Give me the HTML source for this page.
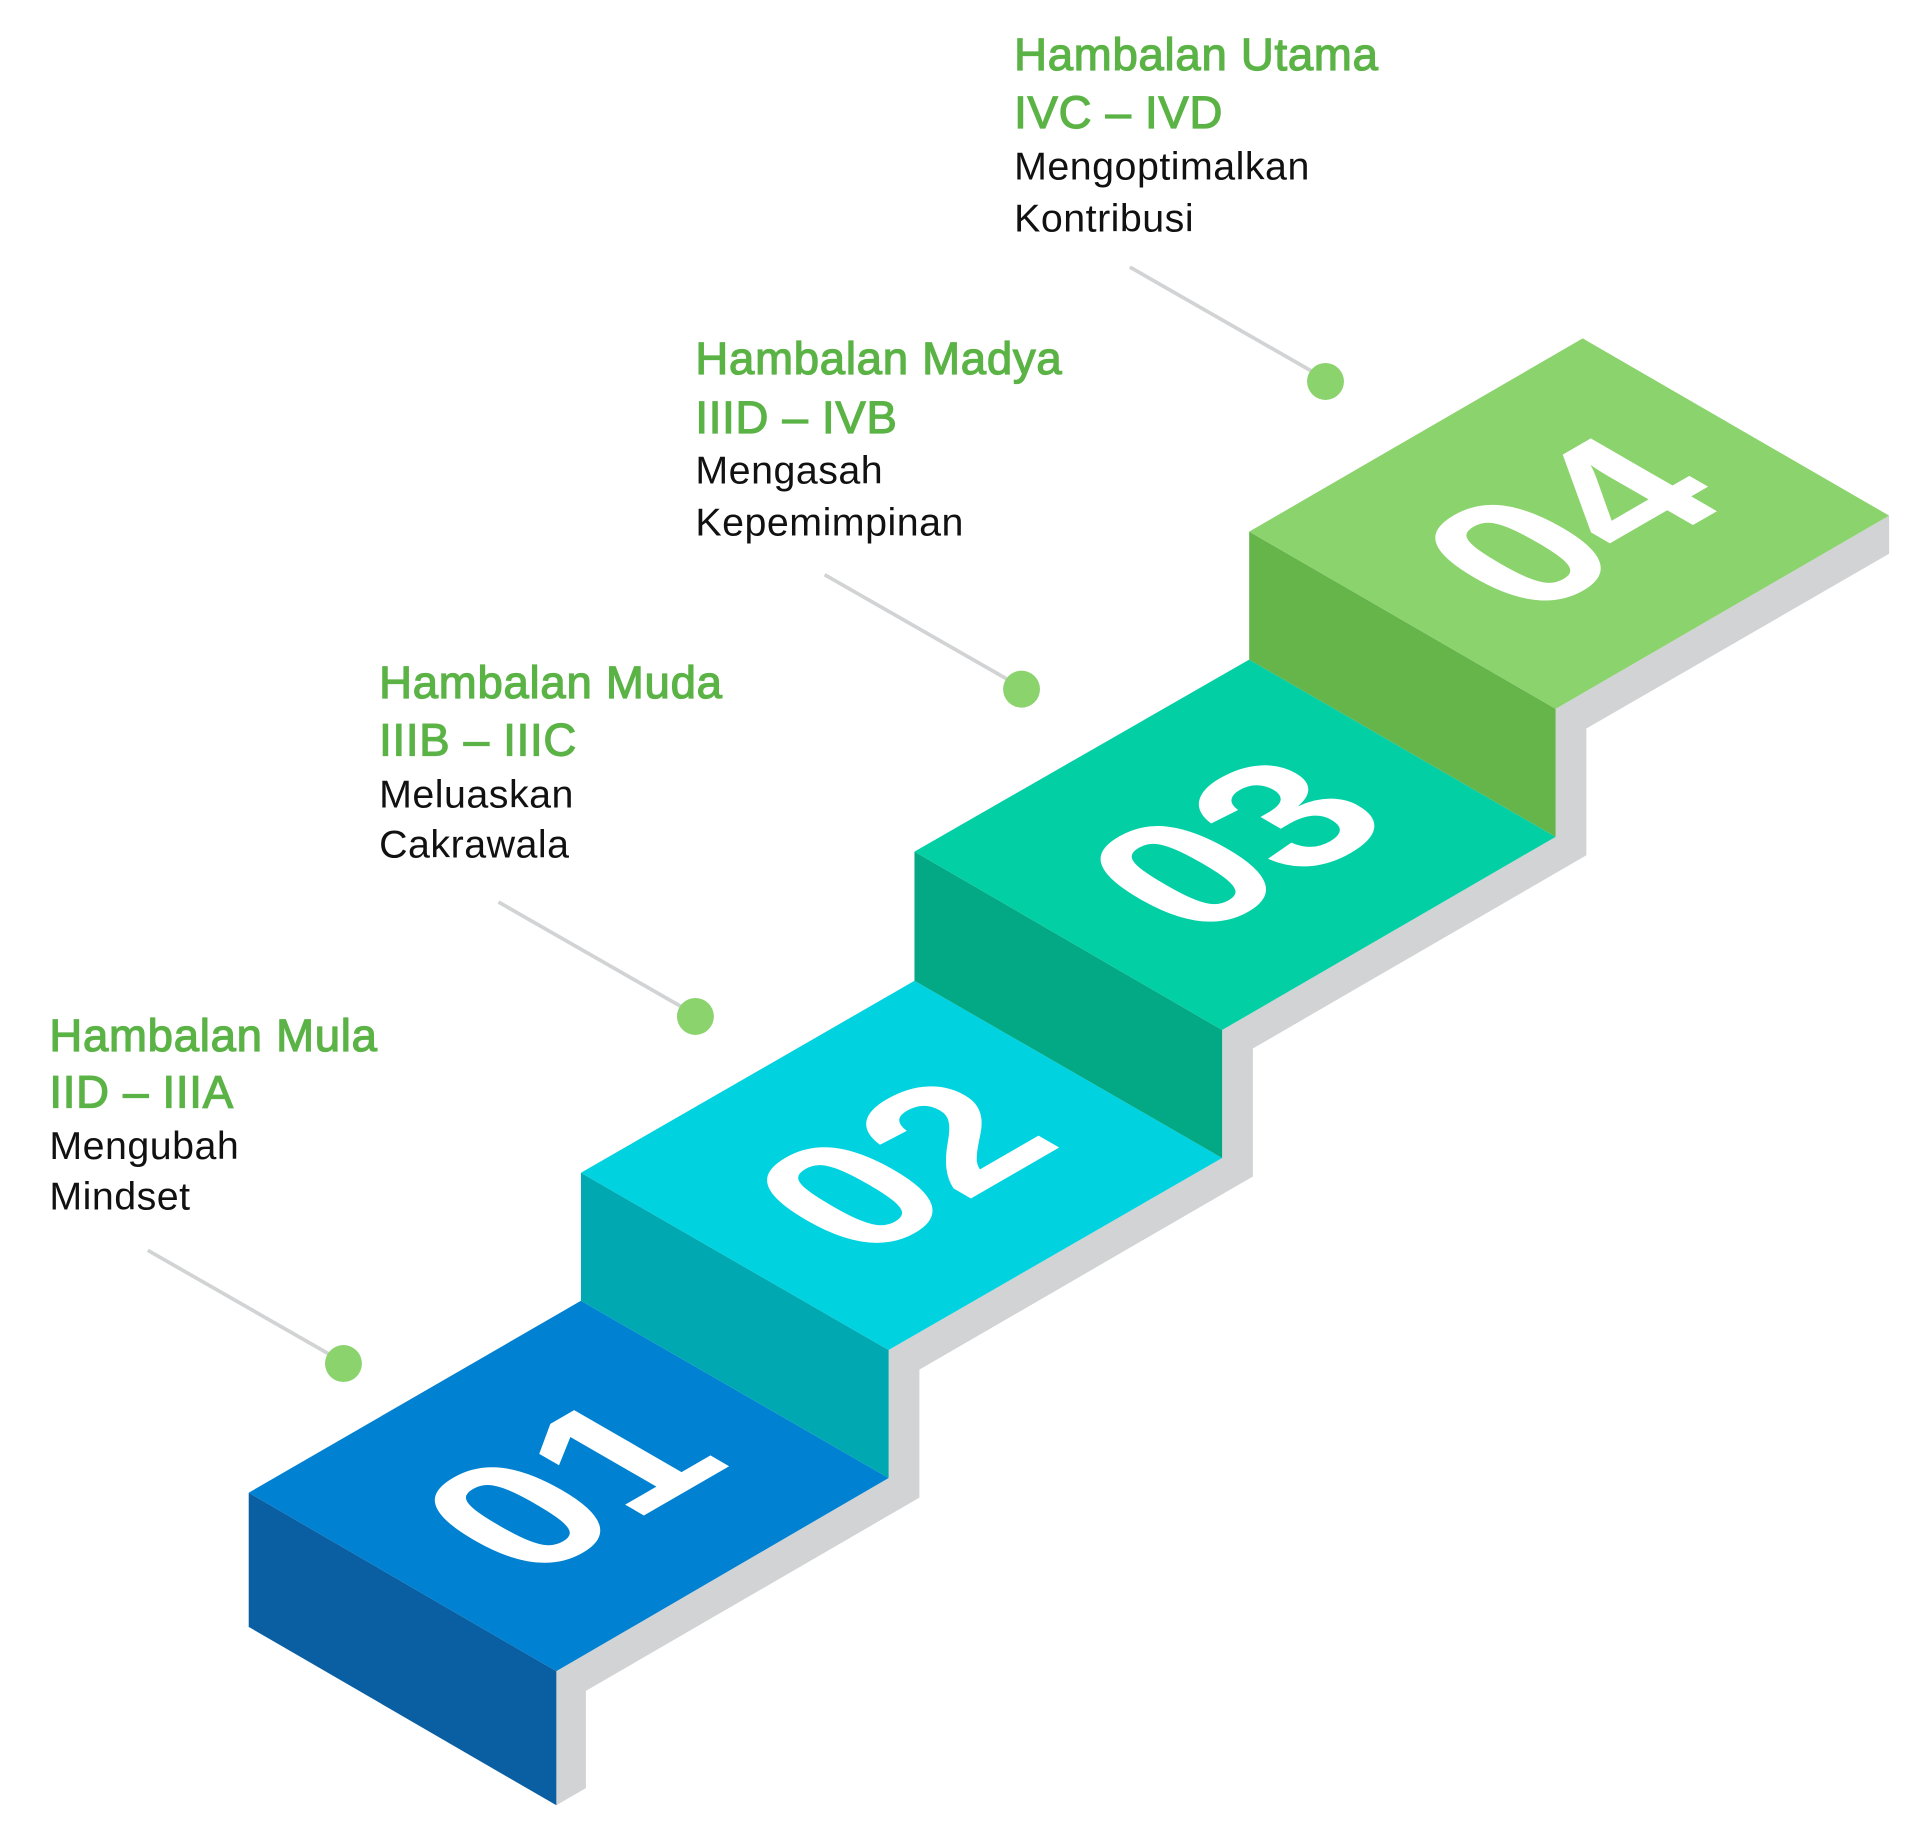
<!DOCTYPE html>
<html><head><meta charset="utf-8"><style>
html,body{margin:0;padding:0;background:#fff;}
svg{display:block;}
.g{fill:#5bb346;font-family:"Liberation Sans",sans-serif;font-size:37px;stroke:#5bb346;stroke-width:1px;letter-spacing:0.6px;}
.b{fill:#111;font-family:"Liberation Sans",sans-serif;font-size:32px;letter-spacing:0.4px;}
.n{fill:#fff;font-family:"Liberation Sans",sans-serif;font-weight:bold;font-size:172px;text-anchor:middle;dominant-baseline:central;}
</style></head><body>
<svg width="1920" height="1825" viewBox="0 0 1560 1483" xmlns="http://www.w3.org/2000/svg">
<polygon fill="#d1d3d4" points="1535,419 1535,450 1289,592 1289,695 1018,852 1018,956 747,1113 747,1217 476,1374 476,1453 452,1467 452,1358 722,1201 722,1097 993,941 993,837 1264,680 1264,576"/>
<polygon fill="#0a5fa3" points="202,1213 452,1358 452,1467 202,1322"/>
<polygon fill="#0081d1" points="202,1213 472,1057 722,1201 452,1358"/>
<polygon fill="#00a9b2" points="472,953 722,1097 722,1201 472,1057"/>
<polygon fill="#00d3df" points="472,953 743,797 993,941 722,1097"/>
<polygon fill="#03a884" points="743,692 993,837 993,941 743,797"/>
<polygon fill="#03cfa5" points="743,692 1015,536 1264,680 993,837"/>
<polygon fill="#65b54b" points="1015,432 1264,576 1264,680 1015,536"/>
<polygon fill="#8bd36d" points="1015,432 1286,275 1535,419 1264,576"/>
<text class="n" transform="matrix(0.866,-0.5,0.866,0.5,462,1207)">01</text>
<text class="n" transform="matrix(0.866,-0.5,0.866,0.5,732,947)">02</text>
<text class="n" transform="matrix(0.866,-0.5,0.866,0.5,1003,686)">03</text>
<text class="n" transform="matrix(0.866,-0.5,0.866,0.5,1275,425)">04</text>
<g stroke="#d1d3d4" stroke-width="3">
<line x1="120" y1="1016" x2="272" y2="1103"/>
<line x1="405" y1="733" x2="557" y2="820"/>
<line x1="670" y1="467" x2="822" y2="554"/>
<line x1="918" y1="217" x2="1070" y2="304"/>
</g>
<g fill="#8bd36d">
<circle cx="279" cy="1108" r="15"/>
<circle cx="565" cy="826" r="15"/>
<circle cx="830" cy="560" r="15"/>
<circle cx="1077" cy="310" r="15"/>
</g>
<text class="g" x="40" y="854">Hambalan Mula</text>
<text class="g" x="40" y="900">IID – IIIA</text>
<text class="b" x="40" y="942">Mengubah</text>
<text class="b" x="40" y="983">Mindset</text>
<text class="g" x="308" y="567">Hambalan Muda</text>
<text class="g" x="308" y="614">IIIB – IIIC</text>
<text class="b" x="308" y="656">Meluaskan</text>
<text class="b" x="308" y="697">Cakrawala</text>
<text class="g" x="565" y="304">Hambalan Madya</text>
<text class="g" x="565" y="352">IIID – IVB</text>
<text class="b" x="565" y="393">Mengasah</text>
<text class="b" x="565" y="435">Kepemimpinan</text>
<text class="g" x="824" y="57">Hambalan Utama</text>
<text class="g" x="824" y="104">IVC – IVD</text>
<text class="b" x="824" y="146">Mengoptimalkan</text>
<text class="b" x="824" y="188">Kontribusi</text>
</svg>
</body></html>
